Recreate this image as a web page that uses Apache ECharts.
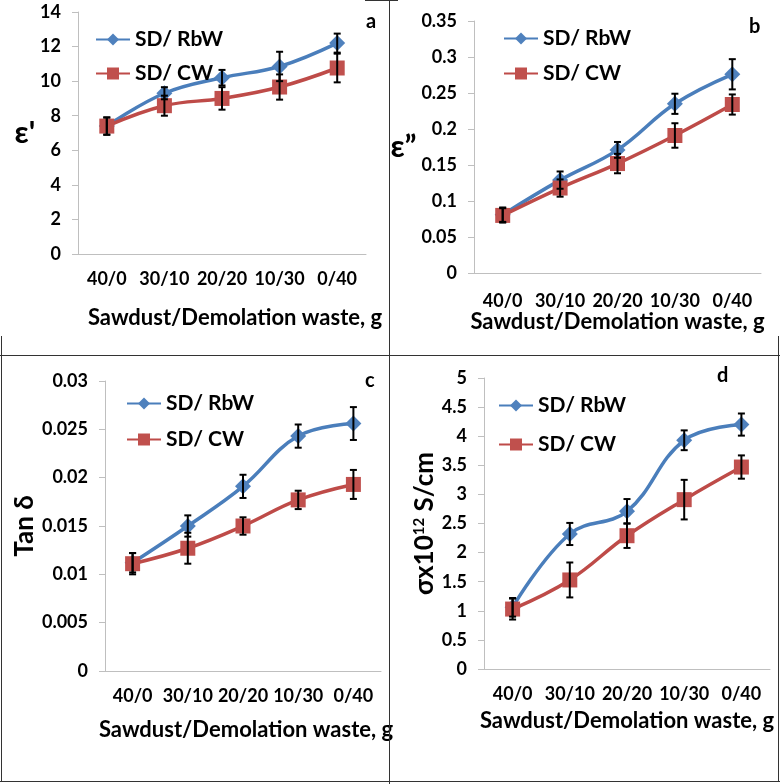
<!DOCTYPE html>
<html>
<head>
<meta charset="utf-8">
<script src="https://cdn.jsdelivr.net/npm/echarts@6/dist/echarts.min.js"></script>
<style>
  html, body { margin: 0; padding: 0; background: #fff; }
  #main { width: 780px; height: 784px; }
</style>
</head>
<body>
<div id="main"></div>
<script>
// categories (sawdust / demolition waste, g)
var categories = ['40/0', '30/10', '20/20', '10/30', '0/40'];
var halfTicks = ['', '', '', '', '', '', '', '', '', ''];

// a: dielectric constant
var rbwA = [7.4, 9.3, 10.2, 10.85, 12.2];
var rbwAErr = [0.5, 0.35, 0.45, 0.85, 0.55];
var cwA = [7.4, 8.58, 9.0, 9.66, 10.76];
var cwAErr = [0.5, 0.58, 0.65, 0.73, 0.83];

// b: dielectric loss
var rbwB = [0.081, 0.129, 0.171, 0.235, 0.276];
var rbwBErr = [0.01, 0.012, 0.011, 0.014, 0.021];
var cwB = [0.08, 0.118, 0.152, 0.191, 0.234];
var cwBErr = [0.01, 0.012, 0.0135, 0.017, 0.014];

// c: tan delta
var rbwC = [0.0112, 0.015, 0.0191, 0.0243, 0.0256];
var rbwCErr = [0.001, 0.0011, 0.0012, 0.0012, 0.0017];
var cwC = [0.0111, 0.0127, 0.015, 0.0177, 0.0193];
var cwCErr = [0.0011, 0.0016, 0.0009, 0.00095, 0.0015];

// d: conductivity
var rbwD = [1.06, 2.32, 2.71, 3.93, 4.2];
var rbwDErr = [0.16, 0.19, 0.21, 0.17, 0.19];
var cwD = [1.03, 1.53, 2.29, 2.91, 3.47];
var cwDErr = [0.18, 0.3, 0.21, 0.34, 0.2];

var FONT = 'Lato, "Noto Sans", sans-serif';
var BLUE = '#4A7EBB', BLUE_M = '#4F81BD';
var RED = '#BE4B48', RED_M = '#C0504D';
var AXIS = '#bfbfbf';

var chart = echarts.init(document.getElementById('main'));

var grids = [
  { left: 78, top: 12, width: 288, height: 242 },
  { left: 474, top: 21, width: 287, height: 252 },
  { left: 105, top: 381, width: 276, height: 290 },
  { left: 484, top: 378, width: 286, height: 291 }
];

var yCfg = [
  { max: 14, interval: 2, name: "ε'", rot: 0, gap: 28, size: 31 },
  { max: 0.35, interval: 0.05, name: 'ε”', rot: 0, gap: 48, size: 31 },
  { max: 0.03, interval: 0.005, name: 'Tan δ', rot: 90, gap: 62, size: 26 },
  { max: 5, interval: 0.5, name: 'σx10{sup|12} S/cm', rot: 90, gap: 42, size: 26 }
];
var xGap = [53, 38, 48, 41];
var xPad = [[0, 0, 0, 26], [0, 0, 0, 0], [0, 0, 0, 6], [0, 0, 0, 0]];

var sets = [
  [rbwA, rbwAErr, cwA, cwAErr],
  [rbwB, rbwBErr, cwB, cwBErr],
  [rbwC, rbwCErr, cwC, cwCErr],
  [rbwD, rbwDErr, cwD, cwDErr]
];

var legendPos = [
  { left: 90, top: 24, itemGap: 13 },
  { left: 498, top: 23, itemGap: 14 },
  { left: 121, top: 388, itemGap: 15 },
  { left: 493, top: 390, itemGap: 18 }
];

var letters = [
  { t: 'a', x: 372, y: 23 },
  { t: 'b', x: 755, y: 28 },
  { t: 'c', x: 371, y: 382 },
  { t: 'd', x: 723, y: 377 }
];

function errData(vals, errs) {
  return vals.map(function (v, i) { return [i, v, errs[i]]; });
}

function renderErr(params, api) {
  var i = api.value(0), v = api.value(1), e = api.value(2);
  var top = api.coord([i, v + e]);
  var bot = api.coord([i, v - e]);
  var cap = 3.5;
  var st = { stroke: '#000', lineWidth: 2 };
  return {
    type: 'group',
    children: [
      { type: 'line', shape: { x1: top[0], y1: top[1], x2: bot[0], y2: bot[1] }, style: st },
      { type: 'line', shape: { x1: top[0] - cap, y1: top[1], x2: top[0] + cap, y2: top[1] }, style: st },
      { type: 'line', shape: { x1: bot[0] - cap, y1: bot[1], x2: bot[0] + cap, y2: bot[1] }, style: st }
    ]
  };
}

var xAxes = [], yAxes = [], series = [], legends = [];
for (var k = 0; k < 4; k++) {
  xAxes.push({
    type: 'category', gridIndex: k, data: categories,
    axisLine: { lineStyle: { color: AXIS } },
    axisTick: { show: false },
    axisLabel: { interval: 0, color: '#000', fontFamily: FONT, fontWeight: 'bold', fontSize: 18, margin: k === 1 ? 19 : 16 },
    name: 'Sawdust/Demolation waste, g', nameLocation: 'middle', nameGap: xGap[k],
    nameTextStyle: { color: '#000', fontFamily: FONT, fontWeight: 'bold', fontSize: 22, padding: xPad[k] }
  });
  xAxes.push({
    type: 'category', gridIndex: k, data: halfTicks, position: 'bottom',
    axisLine: { show: false }, axisLabel: { show: false },
    axisTick: { length: 5, lineStyle: { color: AXIS } }
  });
  yAxes.push({
    type: 'value', gridIndex: k, min: 0, max: yCfg[k].max, interval: yCfg[k].interval,
    axisLine: { show: true, lineStyle: { color: AXIS } },
    axisTick: { show: true, length: 6, lineStyle: { color: AXIS } },
    splitLine: { show: false },
    axisLabel: { color: '#000', fontFamily: FONT, fontWeight: 'bold', fontSize: 18, margin: 17 },
    name: yCfg[k].name, nameLocation: 'middle', nameRotate: yCfg[k].rot, nameGap: yCfg[k].gap,
    nameTextStyle: {
      color: '#000', fontFamily: FONT, fontWeight: 'bold', fontSize: yCfg[k].size,
      rich: { sup: { fontFamily: FONT, fontWeight: 'bold', fontSize: 15, verticalAlign: 'top', padding: [0, 0, 10, 0] } }
    }
  });
  var s = sets[k];
  series.push({
    name: 'SD/ RbW', type: 'line', xAxisIndex: 2 * k, yAxisIndex: k, data: s[0],
    smooth: 0.4, symbol: 'diamond', symbolSize: 16, z: 3,
    lineStyle: { color: BLUE, width: 3.5 }, itemStyle: { color: BLUE_M }
  });
  series.push({
    name: 'SD/ CW', type: 'line', xAxisIndex: 2 * k, yAxisIndex: k, data: s[2],
    smooth: 0.4, symbol: 'rect', symbolSize: 15, z: 4,
    lineStyle: { color: RED, width: 3.5 }, itemStyle: { color: RED_M }
  });
  series.push({
    type: 'custom', xAxisIndex: 2 * k, yAxisIndex: k, data: errData(s[0], s[1]),
    renderItem: renderErr, encode: { x: 0, y: 1 }, z: 5, silent: true
  });
  series.push({
    type: 'custom', xAxisIndex: 2 * k, yAxisIndex: k, data: errData(s[2], s[3]),
    renderItem: renderErr, encode: { x: 0, y: 1 }, z: 5, silent: true
  });
  legends.push({
    data: ['SD/ RbW', 'SD/ CW'], orient: 'vertical',
    left: legendPos[k].left, top: legendPos[k].top, itemGap: legendPos[k].itemGap,
    itemWidth: 34, itemHeight: 15, selectedMode: false,
    textStyle: { color: '#000', fontFamily: FONT, fontWeight: 'bold', fontSize: 21 }
  });
}

// panel letters and frame lines
var graphics = letters.map(function (l) {
  return { type: 'text', left: l.x - 6, top: l.y - 11, style: { text: l.t, fill: '#000', font: 'bold 20px ' + FONT } };
});
var frame = { stroke: '#333', lineWidth: 1 };
[
  [389.5, 0, 389.5, 784],
  [0, 355.5, 780, 355.5],
  [1.5, 336, 1.5, 782],
  [0, 781.5, 780, 781.5],
  [778.5, 336, 778.5, 782],
  [365, 0.5, 398, 0.5]
].forEach(function (p) {
  graphics.push({ type: 'line', shape: { x1: p[0], y1: p[1], x2: p[2], y2: p[3] }, style: frame, z: 100 });
});

chart.setOption({
  animation: false,
  backgroundColor: '#fff',
  grid: grids,
  xAxis: xAxes,
  yAxis: yAxes,
  legend: legends,
  series: series,
  graphic: graphics
});
</script>
</body>
</html>
